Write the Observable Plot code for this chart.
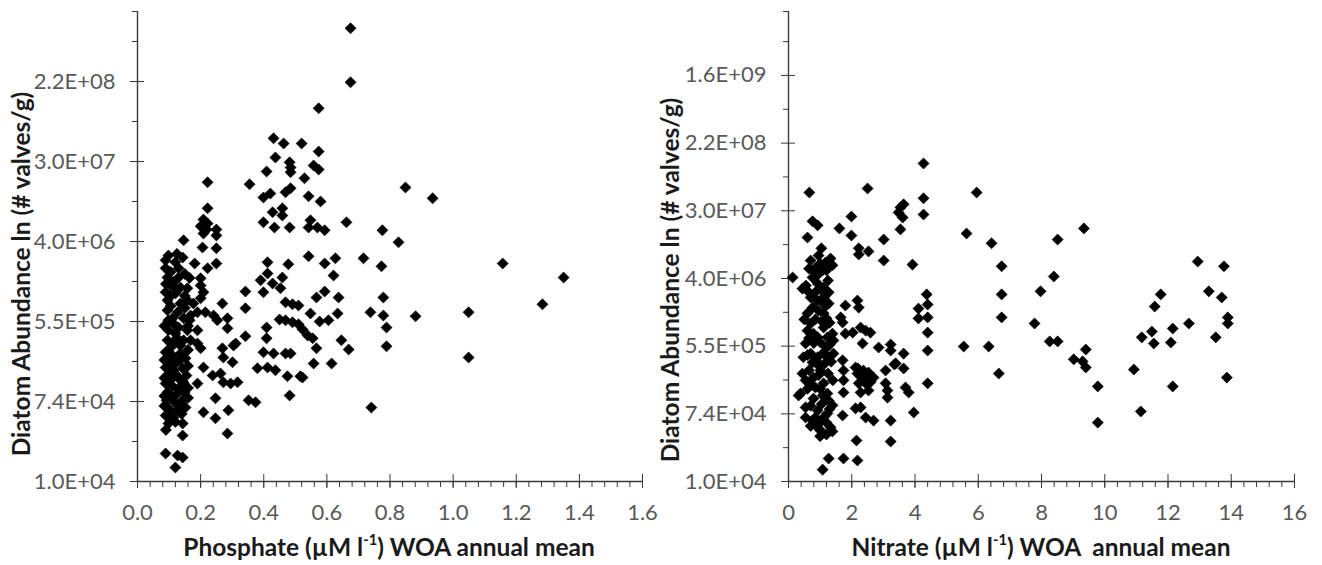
<!DOCTYPE html>
<html><head><meta charset="utf-8">
<script src="https://cdn.jsdelivr.net/npm/d3@7"></script>
<script src="https://cdn.jsdelivr.net/npm/@observablehq/plot@0.6"></script>
<style>
body{margin:0;background:#fff;font-family:Lato,"Open Sans",sans-serif;}
#wrap{position:relative;width:1322px;height:565px;overflow:hidden;background:#fff}
.panel{position:absolute;top:0}
.xt,.yt{position:absolute;font-weight:bold;font-size:24.5px;color:#1a1a1a;white-space:nowrap;line-height:1}
.xt{transform:translate(-50%,-50%)}
.yt{transform:translate(-50%,-50%) rotate(-90deg)}
sup{font-size:0.6em;vertical-align:0.7em;line-height:0}
</style></head><body><div id="wrap"></div>
<script>
// Phosphate (µM l-1) vs ln(diatom abundance)
const phosphateData = [
[0.675,20.54],[0.675,19.19],[0.574,18.54],[0.431,17.79],[0.463,17.66],[0.520,17.66],[0.574,17.46],[0.437,17.31],[0.482,17.19],[0.485,17.06],
[0.485,16.94],[0.558,17.11],[0.574,17.01],[0.409,16.96],[0.529,16.79],[0.222,16.69],[0.355,16.64],[0.469,16.44],[0.485,16.54],[0.421,16.41],
[0.399,16.31],[0.542,16.34],[0.580,16.21],[0.428,15.94],[0.459,16.04],[0.459,15.86],[0.222,16.04],[0.399,15.69],[0.434,15.56],[0.482,15.56],
[0.548,15.74],[0.542,15.56],[0.570,15.56],[0.593,15.49],[0.662,15.69],[0.776,15.49],[0.827,15.19],[0.849,16.56],[0.935,16.29],[0.209,15.76],
[0.222,15.66],[0.200,15.59],[0.219,15.51],[0.209,15.41],[0.250,15.51],[0.250,15.36],[0.146,15.24],[0.206,15.06],[0.250,15.04],[0.098,14.86],
[0.143,14.81],[0.181,14.66],[0.222,14.54],[0.250,14.66],[0.412,14.69],[0.478,14.64],[0.542,14.84],[0.593,14.66],[0.627,14.79],[0.716,14.79],
[0.773,14.59],[0.621,14.36],[1.157,14.66],[1.350,14.31],[0.089,14.54],[0.130,14.54],[0.095,14.31],[0.130,14.31],[0.200,14.29],[0.200,14.11],
[0.209,13.94],[0.200,13.79],[0.342,13.96],[0.342,13.54],[0.269,13.66],[0.285,13.29],[0.285,13.04],[0.412,14.41],[0.390,14.24],[0.428,14.16],
[0.459,14.31],[0.453,14.04],[0.399,13.94],[0.567,13.81],[0.593,13.96],[0.637,13.81],[0.779,13.81],[0.469,13.69],[0.491,13.64],[0.510,13.61],
[0.548,13.41],[0.577,13.21],[0.605,13.24],[0.634,13.41],[0.738,13.44],[0.779,13.36],[0.789,13.06],[0.881,13.34],[1.049,13.44],[1.283,13.64],
[0.450,13.26],[0.469,13.24],[0.491,13.19],[0.510,13.14],[0.523,13.01],[0.539,12.86],[0.555,12.79],[0.567,12.54],[0.409,13.06],[0.409,12.79],
[0.342,12.84],[0.311,12.66],[0.646,12.74],[0.669,12.51],[0.789,12.59],[0.399,12.44],[0.431,12.41],[0.469,12.41],[0.485,12.41],[0.380,12.04],
[0.412,12.06],[0.437,11.99],[0.475,11.84],[0.516,11.84],[0.558,12.16],[0.615,12.16],[0.301,12.19],[0.317,11.69],[0.352,11.24],[0.374,11.19],
[0.482,11.36],[0.741,11.06],[1.049,12.31],[0.523,11.81],[0.168,13.36],[0.190,13.44],[0.215,13.44],[0.241,13.36],[0.253,13.24],[0.190,12.99],
[0.190,12.66],[0.200,12.54],[0.269,12.54],[0.272,12.31],[0.304,12.61],[0.209,12.06],[0.238,11.86],[0.263,11.91],[0.272,11.69],[0.295,11.66],
[0.190,11.66],[0.247,11.29],[0.209,10.94],[0.247,10.79],[0.288,10.99],[0.285,10.41],[0.098,10.66],[0.143,10.66],[0.143,10.36],[0.089,9.91],
[0.127,9.86],[0.143,9.81],[0.120,9.56],[0.089,13.94],[0.120,13.91],[0.095,13.74],[0.136,13.66],[0.095,13.49],[0.127,13.44],[0.146,13.29],
[0.098,13.24],[0.098,12.99],[0.095,12.74],[0.105,12.56],[0.120,12.91],[0.130,13.06],[0.146,12.74],[0.158,12.99],[0.168,12.74],[0.089,12.44],
[0.111,12.36],[0.136,12.41],[0.098,12.24],[0.124,12.19],[0.152,12.29],[0.089,12.06],[0.114,11.99],[0.143,12.04],[0.098,11.86],[0.130,11.79],
[0.155,11.86],[0.089,11.66],[0.111,11.59],[0.139,11.61],[0.095,11.44],[0.124,11.39],[0.149,11.44],[0.092,11.24],[0.117,11.19],[0.143,11.24],
[0.098,11.04],[0.127,10.99],[0.152,11.06],[0.089,10.86],[0.114,10.81],[0.089,14.74],[0.120,14.69],[0.105,14.11],[0.136,14.06],[0.111,13.29],
[0.136,12.61],[0.165,13.24],[0.158,13.74],[0.177,13.66],[0.158,14.04],
[0.105,13.60],[0.150,13.55],[0.115,13.15],[0.160,13.10],[0.085,13.10],[0.125,12.80],[0.110,12.65],[0.160,12.50],[0.085,12.25],[0.135,12.25],
[0.105,12.10],[0.160,12.10],[0.120,11.90],[0.085,11.80],[0.145,11.70],[0.105,11.75],[0.160,11.55],[0.130,11.50],[0.085,11.35],[0.105,11.30],
[0.160,11.30],[0.130,11.10],[0.085,11.10],[0.105,10.95],[0.140,10.90],[0.120,10.70],[0.090,10.50],[0.125,14.90],[0.105,14.45],[0.150,14.40],
[0.115,14.20],[0.165,14.30],[0.090,14.15],[0.125,14.00],[0.150,13.85],[0.105,13.85]
];

// Nitrate (µM l-1) vs ln(diatom abundance)
const nitrateData = [
[4.27,18.61],[0.66,17.75],[2.50,17.87],[5.95,17.75],[4.27,17.58],[4.27,17.10],[3.54,17.31],[3.64,17.40],[3.48,17.16],[3.61,17.01],
[3.54,16.66],[0.76,16.90],[0.92,16.78],[0.60,16.42],[1.61,16.69],[1.99,17.04],[1.99,16.48],[3.01,16.36],[5.63,16.54],[6.42,16.25],
[1.04,16.10],[2.22,16.10],[2.22,15.92],[2.53,16.01],[3.01,15.74],[3.92,15.62],[0.70,15.74],[0.95,15.89],[1.17,15.68],[1.33,15.80],
[0.85,15.51],[1.08,15.45],[1.39,15.60],[0.79,15.45],[1.27,15.54],[0.13,15.24],[0.44,14.91],[0.76,15.24],[0.92,15.06],[1.11,14.94],
[1.11,14.65],[1.27,14.80],[1.27,14.47],[0.70,14.65],[0.76,14.35],[0.95,14.26],[1.11,14.18],[1.80,14.41],[2.18,14.56],[2.22,14.35],
[1.65,14.06],[1.71,13.91],[0.60,14.18],[0.60,13.67],[0.54,13.29],[0.70,13.88],[0.92,13.47],[1.11,13.76],[1.23,13.47],[1.39,13.58],
[1.42,13.38],[1.80,13.58],[2.03,13.61],[2.28,13.76],[2.44,13.67],[2.59,13.61],[2.34,13.29],[2.85,13.17],[3.23,13.26],[3.23,13.08],
[3.64,12.99],[0.47,12.88],[0.70,12.99],[0.92,12.88],[1.11,13.02],[1.23,12.88],[1.42,12.99],[0.44,12.40],[0.54,12.20],[0.38,11.81],
[0.54,11.40],[0.54,11.10],[0.79,12.28],[0.85,11.99],[1.01,12.49],[1.11,12.11],[1.23,11.81],[1.27,11.60],[0.79,11.66],[0.92,11.31],
[0.95,10.92],[1.01,10.72],[1.11,11.10],[1.23,11.22],[1.33,10.81],[1.39,11.46],[1.71,12.79],[1.74,12.49],[1.74,12.20],[1.74,11.84],
[1.71,11.16],[2.12,12.58],[2.18,12.40],[2.22,12.11],[2.28,11.84],[2.37,12.49],[2.53,12.43],[2.59,12.25],[2.69,12.28],[2.44,12.11],
[2.12,11.37],[2.28,11.40],[2.44,11.10],[2.69,11.01],[2.53,11.90],[3.07,12.49],[3.07,12.11],[3.13,11.90],[3.13,11.69],[3.39,12.70],
[3.64,12.55],[3.70,11.99],[3.80,11.84],[3.35,12.67],[3.23,11.01],[3.96,11.25],[2.15,10.42],[3.23,10.39],[1.27,9.89],[1.74,9.89],
[2.18,9.83],[1.08,9.56],[0.32,11.75],[0.92,10.81],[1.39,10.69],[4.37,14.74],[4.40,14.44],[4.11,14.32],[4.11,14.03],[4.40,14.06],
[4.40,13.61],[4.40,13.08],[4.40,12.11],[5.54,13.20],[6.33,13.20],[6.74,15.57],[6.74,14.74],[6.74,14.06],[6.65,12.40],[9.34,16.69],
[8.51,16.36],[8.39,15.27],[12.94,15.71],[13.77,15.57],[7.97,14.83],[7.78,13.88],[8.26,13.35],[8.51,13.35],[9.02,12.82],[9.30,12.76],
[9.40,13.11],[9.40,12.58],[9.78,12.02],[9.78,10.95],[10.92,12.52],[11.14,11.28],[11.17,13.47],[11.49,13.64],[11.55,13.29],[11.58,14.38],
[11.77,14.74],[12.09,13.32],[12.15,13.73],[12.15,12.02],[12.66,13.88],[13.29,14.83],[13.70,14.65],[13.89,14.06],[13.89,13.88],[13.51,13.47],
[13.86,12.28],[0.85,14.80],[1.01,14.56],[1.20,14.03],[0.79,13.58],[1.01,13.32],[1.20,13.17],[0.76,12.73],[0.95,12.64],[0.70,12.05],
[1.08,11.75],[0.76,11.01],
[0.55,15.00],[0.65,14.80],[1.00,14.90],[1.20,14.75],[0.90,14.55],[1.18,14.40],[0.50,14.00],[0.85,14.00],[1.05,13.95],[1.30,13.90],
[0.65,13.45],[0.80,13.30],[1.30,13.25],[0.60,12.95],[0.90,12.75],[1.15,12.70],[1.35,12.75],[0.65,12.50],[1.25,12.40],[0.95,12.35],
[0.60,11.95],[1.00,11.95],[1.40,12.20],[0.70,11.45],[1.05,11.50],[1.30,11.35],[0.85,11.10],[1.20,10.95],[0.70,10.85],[1.00,10.55],
[1.20,10.60],[0.65,15.50],[1.00,15.65],[1.20,15.45],[0.90,15.30],[1.25,15.15],[2.30,12.30],[2.40,12.35],[2.20,12.55],[2.60,12.15]
];

// Axis ticks (y in ln units, labelled as exp)
const yMajorLeft = [9.21, 11.21, 13.21, 15.21, 17.21, 19.21];
const yMinorLeft = [10.21, 12.21, 14.21, 16.21, 18.21, 20.21, 20.96];
const yMajorRight = [9.21, 11.21, 13.21, 15.21, 17.21, 19.21, 21.21];
const yMinorRight = [10.21, 12.21, 14.21, 16.21, 18.21, 20.21, 22.21, 23.1];
const xMajorLeft = [0, 0.2, 0.4, 0.6, 0.8, 1.0, 1.2, 1.4, 1.6];
const xMajorRight = [0, 2, 4, 6, 8, 10, 12, 14, 16];

const axisColor = "#3a3a3a";
const labelColor = "#595959";
const fmtE = d => {
  const [m, e] = Math.exp(d).toExponential(1).split("e");
  const n = Math.abs(+e);
  return m + "E" + (+e < 0 ? "-" : "+") + (n < 10 ? "0" + n : n);
};

function panel({data, xDomain, yDomain, xMajor, xMinor, yMajor, yMinor, xFmt, marginLeft, marginRight}) {
  return Plot.plot({
    width: 661, height: 565,
    marginLeft, marginRight, marginTop: 11, marginBottom: 84,
    x: {domain: xDomain},
    y: {domain: yDomain},
    style: {fontFamily: "Lato, 'Open Sans', sans-serif", background: "white", overflow: "visible"},
    marks: [
      Plot.ruleX([xDomain[0]], {stroke: axisColor, strokeWidth: 1.4}),
      Plot.ruleY([yDomain[0]], {stroke: axisColor, strokeWidth: 1.4}),
      Plot.axisY(yMinor, {tickSize: 5, tickFormat: () => "", color: axisColor, label: null}),
      Plot.axisY(yMajor, {tickSize: 14, dx: 7, tickFormat: () => "", color: axisColor, label: null}),
      Plot.axisY(yMajor, {tickSize: 0, tickPadding: 22, tickFormat: fmtE, fontSize: 22, color: labelColor, label: null}),
      Plot.axisX(xMinor, {tickSize: 6, tickFormat: () => "", color: axisColor, label: null}),
      Plot.axisX(xMajor, {tickSize: 14, dy: -7, tickFormat: () => "", color: axisColor, label: null}),
      Plot.axisX(xMajor, {tickSize: 0, tickPadding: 23, tickFormat: xFmt, fontSize: 22, color: labelColor, label: null}),
      Plot.dot(data, {x: d => d[0], y: d => d[1], symbol: "diamond2", r: 5, fill: "black", stroke: "black", strokeWidth: 0.6})
    ]
  });
}

const wrap = document.getElementById("wrap");
const left = panel({
  data: phosphateData, xDomain: [0, 1.6], yDomain: [9.21, 20.96],
  xMajor: xMajorLeft, xMinor: d3.range(0, 1.6001, 0.04), yMajor: yMajorLeft, yMinor: yMinorLeft,
  xFmt: d3.format(".1f"), marginLeft: 137, marginRight: 19
});
const right = panel({
  data: nitrateData, xDomain: [0, 16], yDomain: [9.21, 23.1],
  xMajor: xMajorRight, xMinor: d3.range(0, 16.001, 0.4), yMajor: yMajorRight, yMinor: yMinorRight,
  xFmt: d3.format("d"), marginLeft: 127, marginRight: 28
});
const d1 = document.createElement("div"); d1.className = "panel"; d1.style.left = "0px"; d1.appendChild(left);
const d2 = document.createElement("div"); d2.className = "panel"; d2.style.left = "661px"; d2.appendChild(right);
wrap.appendChild(d1); wrap.appendChild(d2);

const titles = [
  {cls: "xt", x: 389, y: 547, html: "Phosphate (µM l<sup>-1</sup>) WOA annual mean"},
  {cls: "xt", x: 1041, y: 547, html: "Nitrate (µM l<sup>-1</sup>) WOA &nbsp;annual mean"},
  {cls: "yt", x: 21, y: 274, html: "Diatom Abundance ln (# valves/g)"},
  {cls: "yt", x: 670, y: 280, html: "Diatom Abundance ln (# valves/g)"}
];
for (const t of titles) {
  const el = document.createElement("div");
  el.className = t.cls; el.style.left = t.x + "px"; el.style.top = t.y + "px"; el.innerHTML = t.html;
  wrap.appendChild(el);
}
</script>
</body></html>
